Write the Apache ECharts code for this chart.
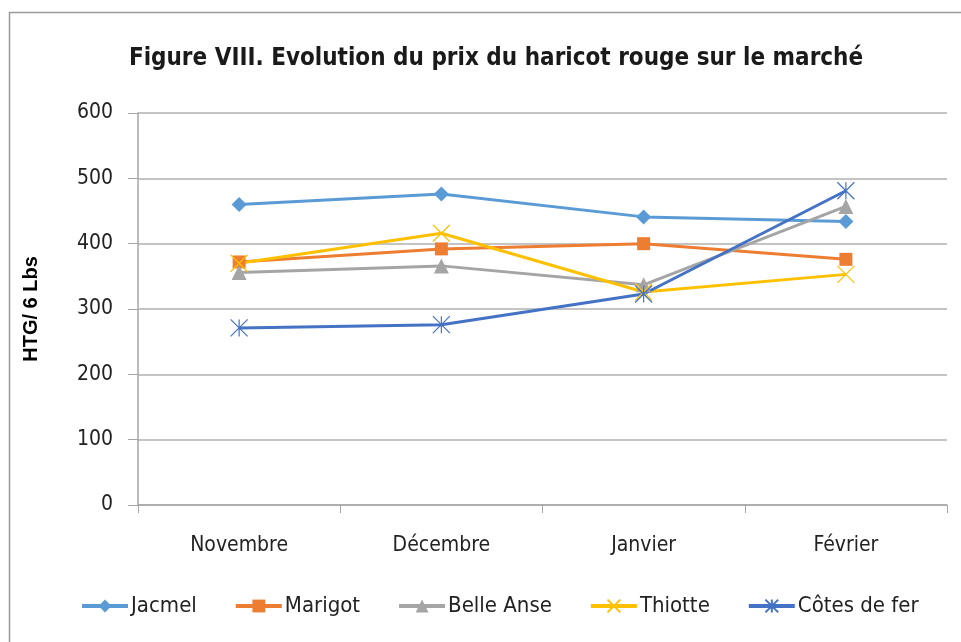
<!DOCTYPE html>
<html>
<head>
<meta charset="utf-8">
<script src="https://cdn.jsdelivr.net/npm/echarts@6/dist/echarts.min.js"></script>
<style>
html,body{margin:0;padding:0;background:#fff;}
#chart{width:961px;height:642px;}
</style>
</head>
<body>
<div id="chart"></div>
<script>
var categories = ['Novembre', 'Décembre', 'Janvier', 'Février'];
var jacmel = [460, 476, 441, 434];
var marigot = [372, 392, 400, 376];
var belleAnse = [356, 366, 337, 457];
var thiotte = [370, 416, 326, 353];
var cotesDeFer = [271, 276, 323, 481];
var yTicks = [0, 100, 200, 300, 400, 500, 600];

var FONT = '"Liberation Sans Narrow", "Arial Narrow", "DejaVu Sans Condensed", sans-serif';
var X_PATH = 'path://M0,0L10,10M10,0L0,10';
var STAR_PATH = 'path://M0,0L10,10M10,0L0,10M5,0L5,10';

function mk(name, data, color, symbol, size, stroked) {
  return {
    name: name,
    type: 'line',
    data: data,
    symbol: symbol,
    symbolSize: size,
    showSymbol: true,
    lineStyle: { color: color, width: 3 },
    itemStyle: stroked ? { color: color, borderColor: color, borderWidth: 1.2 } : { color: color },
    emphasis: { disabled: true },
    z: 3
  };
}

var chart = echarts.init(document.getElementById('chart'));
chart.setOption({
  animation: false,
  backgroundColor: '#fff',
  title: {
    text: 'Figure VIII. Evolution du prix du haricot rouge sur le marché',
    left: 491, top: 42, textAlign: 'center',
    textStyle: { fontFamily: FONT, fontSize: 24, fontWeight: 'bold', color: '#1a1a1a' }
  },
  graphic: [{
    type: 'rect', left: 7, top: 10, shape: { width: 970, height: 650 },
    style: { fill: 'none', stroke: '#9a9a9a', lineWidth: 1.5 }, z: -1
  }],
  legend: {
    bottom: 20, left: 75,
    itemWidth: 46, itemHeight: 16, itemGap: 37,
    lineStyle: { width: 4 },
    textStyle: { fontFamily: FONT, fontSize: 22, color: '#222', padding: [0, 0, 0, -2] },
    data: ['Jacmel', 'Marigot', 'Belle Anse', 'Thiotte', 'Côtes de fer']
  },
  grid: { left: 138, right: 14, top: 113, bottom: 137 },
  xAxis: {
    type: 'category', data: categories, boundaryGap: true,
    axisLine: { lineStyle: { color: '#a6a6a6', width: 1.5 } },
    axisTick: { show: true, length: 8, lineStyle: { color: '#a6a6a6' } },
    axisLabel: { fontFamily: FONT, fontSize: 21, color: '#222', margin: 30 }
  },
  yAxis: {
    type: 'value', min: 0, max: 600, interval: 100,
    name: 'HTG/ 6 Lbs', nameLocation: 'middle', nameGap: 97, nameRotate: 90,
    nameTextStyle: { fontFamily: '"Liberation Sans", Arial, sans-serif', fontSize: 20, fontWeight: 'bold', color: '#000' },
    axisLine: { show: true, lineStyle: { color: '#a6a6a6', width: 1.5 } },
    axisTick: { show: true, length: 10, lineStyle: { color: '#a6a6a6' } },
    axisLabel: { fontFamily: FONT, fontSize: 21, color: '#222', margin: 25,
      formatter: function (v) { return yTicks.indexOf(v) >= 0 ? String(v) : ''; } },
    splitLine: { lineStyle: { color: '#b0b0b0', width: 1.5 } }
  },
  series: [
    mk('Jacmel', jacmel, '#5B9BD5', 'diamond', 15, false),
    mk('Marigot', marigot, '#ED7D31', 'rect', 13, false),
    mk('Belle Anse', belleAnse, '#A5A5A5', 'triangle', 15, false),
    mk('Thiotte', thiotte, '#FFC000', X_PATH, 17, true),
    mk('Côtes de fer', cotesDeFer, '#4472C4', STAR_PATH, 17, true)
  ]
});
</script>
</body>
</html>
